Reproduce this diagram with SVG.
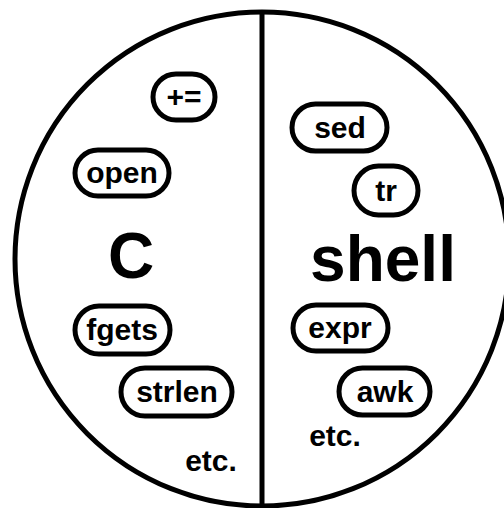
<svg xmlns="http://www.w3.org/2000/svg" width="504" height="508" viewBox="0 0 504 508">
<style>
.outline{fill:#fff;stroke:#000;stroke-width:5}
.pill{fill:#fff;stroke:#000;stroke-width:5}
.t{font-family:"Liberation Sans",Arial,sans-serif;font-weight:bold;fill:#000;text-anchor:middle}
.s{font-size:30px}
.big{font-size:64px}
</style>
<rect width="504" height="508" fill="#fff"/>
<g id="frame">
<circle class="outline" cx="262" cy="259" r="247"/>
</g>
<g id="connectors">
<line x1="262" y1="12" x2="262" y2="506" stroke="#000" stroke-width="5"/>
</g>
<g id="label-C"><text class="t big" x="131" y="278">C</text></g>
<g id="label-shell"><text class="t big" x="383" y="281">shell</text></g>
<g id="node-pluseq"><rect class="pill" x="153" y="74" width="62" height="46" rx="23"/><text class="t s" x="184" y="107">+=</text></g>
<g id="node-open"><rect class="pill" x="75" y="150" width="94" height="46" rx="23"/><text class="t s" x="122" y="183">open</text></g>
<g id="node-fgets"><rect class="pill" x="75" y="306" width="95" height="48" rx="24"/><text class="t s" x="122" y="340">fgets</text></g>
<g id="node-strlen"><rect class="pill" x="121" y="368" width="111" height="48" rx="24"/><text class="t s" x="177" y="402">strlen</text></g>
<g id="node-sed"><rect class="pill" x="292" y="104" width="95" height="47" rx="23.5"/><text class="t s" x="340" y="138">sed</text></g>
<g id="node-tr"><rect class="pill" x="354" y="166" width="64" height="49" rx="24.5"/><text class="t s" x="386" y="201">tr</text></g>
<g id="node-expr"><rect class="pill" x="293" y="305" width="95" height="46" rx="23"/><text class="t s" x="340" y="338">expr</text></g>
<g id="node-awk"><rect class="pill" x="339" y="368" width="91" height="47" rx="23.5"/><text class="t s" x="385" y="402">awk</text></g>
<g id="etc-left"><text class="t s" x="211" y="471">etc.</text></g>
<g id="etc-right"><text class="t s" x="335" y="446">etc.</text></g>
</svg>
